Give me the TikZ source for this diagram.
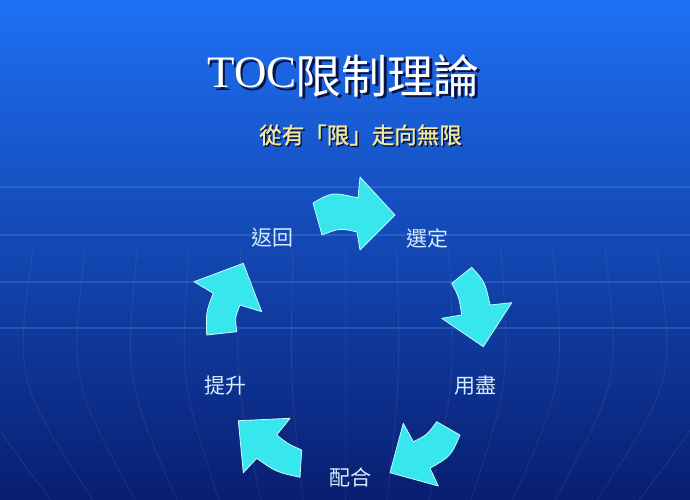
\documentclass[tikz,border=0pt]{standalone}
\usepackage{fontspec}
\setmainfont{Liberation Serif}
\newfontfamily\cjk{Noto Sans CJK TC}
\newfontfamily\cjkb[FakeBold=1.2]{Noto Sans CJK TC}
\definecolor{bgtop}{RGB}{30,112,244}
\definecolor{bgmid}{RGB}{18,78,212}
\definecolor{bgbot}{RGB}{8,30,112}
\definecolor{arrcyan}{RGB}{56,230,238}
\definecolor{arrline}{RGB}{200,250,255}
\definecolor{subyel}{RGB}{240,232,160}
\definecolor{lblcol}{RGB}{215,236,255}
\definecolor{shadowcol}{RGB}{8,20,70}
\tikzset{
  blockarrow/.style={fill=arrcyan, draw=arrline, line width=0.8pt, line join=round},
  lbl/.style={inner sep=0pt, text=lblcol, font=\cjk\fontsize{21}{24}\selectfont},
  gridline/.style={draw=white, opacity=0.08, line width=0.8pt},
  hline/.style={draw=cyan!40!white, opacity=0.15, line width=1.4pt}
}
\begin{document}
\begin{tikzpicture}[x=1pt,y=-1pt]
\useasboundingbox (0,0) rectangle (690,500);
\shade[top color=bgtop, middle color=bgmid, bottom color=bgbot] (0,0) rectangle (690,500);
% faint horizontal lines
\foreach \yy in {187,235,282,328}
  \draw[hline] (0,\yy) -- (690,\yy);
% globe meridians
\foreach \k in {-7,...,7}
  \draw[gridline] (345+\k*52,250) .. controls (345+\k*55,380) .. (345+\k*42,500);
% title
\node[inner sep=0pt, text=shadowcol, font=\fontsize{45}{50}\selectfont] at (254.5,75.5) {TOC};
\node[inner sep=0pt, text=white, font=\fontsize{45}{50}\selectfont] (toc) at (252,73) {TOC};
\node[inner sep=0pt, text=shadowcol, font=\cjk\fontsize{46}{52}\selectfont] at (390,78.5) {限制理論};
\node[inner sep=0pt, text=white, font=\cjk\fontsize{46}{52}\selectfont] (title) at (387.5,76) {限制理論};
% subtitle
\node[inner sep=0pt, text=shadowcol, font=\cjkb\fontsize{22.5}{26}\selectfont] at (362,136.5) {從有「限」走向無限};
\node[inner sep=0pt, text=subyel, font=\cjkb\fontsize{22.5}{26}\selectfont] (sub) at (360.5,135) {從有「限」走向無限};
% labels
\node[lbl] (fanhui) at (272,238) {返回};
\node[lbl] (xuanding) at (427,238) {選定};
\node[lbl] (yongjin) at (475,386) {用盡};
\node[lbl] (peihe) at (350,477) {配合};
\node[lbl] (tisheng) at (225,386) {提升};
% arrows
\draw[blockarrow] (313,203) .. controls (332,192) .. (358,198) -- (360,177) -- (395,215) -- (360,250) -- (357,232) .. controls (340,228) .. (322,235) -- cycle;
\draw[blockarrow] (451.7,283.3) -- (471.7,267.3) .. controls (485,282) .. (490,305) -- (511.7,302.7) -- (483.3,346.7) -- (441.7,318.3) -- (461.7,315) .. controls (459,297) .. (451.7,283.3) -- cycle;
\draw[blockarrow] (436.7,421.7) -- (460,435) .. controls (451,456) .. (430,468.3) -- (438.3,486) -- (390,472.7) -- (403.3,423.3) -- (413.3,441.7) .. controls (427,435) .. (436.7,421.7) -- cycle;
\draw[blockarrow] (301.7,450) -- (300,477.3) .. controls (276,472) .. (256.7,458.3) -- (243.3,472.7) -- (238.3,420.7) -- (290,418.3) -- (276.7,435) .. controls (288,444) .. (301.7,450) -- cycle;
\draw[blockarrow] (206.7,335) -- (236.7,331.7) .. controls (235,317) .. (240,305) -- (261.7,311.7) -- (243.3,263.3) -- (194,281.7) -- (213.3,293.3) .. controls (206,312) .. (206.7,335) -- cycle;
\end{tikzpicture}
\end{document}
